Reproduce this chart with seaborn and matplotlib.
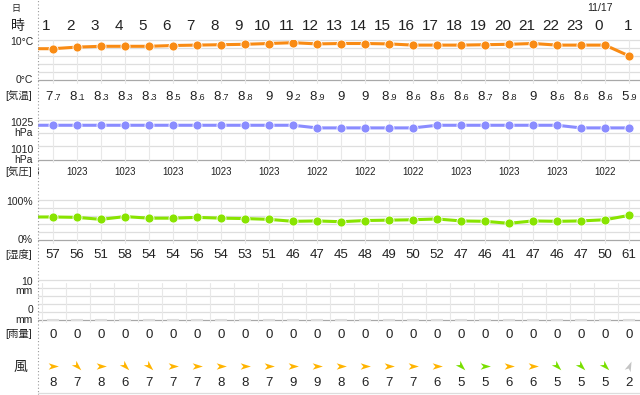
#1時間ごとの天気 (気温・気圧・湿度・雨量・風) を seaborn で再現

import numpy as np
import matplotlib.pyplot as plt
from matplotlib.path import Path
from matplotlib.markers import MarkerStyle
from matplotlib.transforms import Affine2D
import seaborn as sns

#データ (11/16 1時 〜 11/17 1時)
hour_labels = [1, 2, 3, 4, 5, 6, 7, 8, 9, 10, 11, 12, 13, 14, 15, 16, 17, 18, 19, 20, 21, 22, 23, 0, 1]
temp = [7.7, 8.1, 8.3, 8.3, 8.3, 8.5, 8.6, 8.7, 8.8, 9, 9.2, 8.9, 9, 9, 8.9, 8.6, 8.6, 8.6, 8.7, 8.8, 9, 8.6, 8.6, 8.6, 5.9]
pressure = [1023, 1023, 1023, 1023, 1023, 1023, 1023, 1023, 1023, 1023, 1023, 1022, 1022, 1022, 1022, 1022,
            1023, 1023, 1023, 1023, 1023, 1023, 1022, 1022, 1022]
humidity = [57, 56, 51, 58, 54, 54, 56, 54, 53, 51, 46, 47, 45, 48, 49, 50, 52, 47, 46, 41, 47, 46, 47, 50, 61]
rain = [0, 0, 0, 0, 0, 0, 0, 0, 0, 0, 0, 0, 0, 0, 0, 0, 0, 0, 0, 0, 0, 0, 0, 0, 0]
wind_speed = [8, 7, 8, 6, 7, 7, 7, 8, 8, 7, 9, 9, 8, 6, 7, 7, 6, 5, 5, 6, 6, 5, 5, 5, 2]
wind_dir = ['西', '北西', '西', '北西', '北西', '西', '西', '西', '西', '西', '西', '西', '西', '西', '西', '西',
            '西', '北西', '西', '西', '西', '北西', '北西', '北西', '南南西']
date_label = '11/17'

#前日0時の値 (左端で切れている線とラベル)
prev_temp = 7.7
prev_pressure = 1023
prev_humidity = 57

pos = np.arange(1, len(hour_labels) + 1)
pos_all = np.arange(0, len(hour_labels) + 1)

sns.set_style('white')
plt.rcParams['font.family'] = ['Liberation Sans', 'Noto Sans CJK JP', 'DejaVu Sans']

W_PX, H_PX = 640, 395
X0 = 37.5
TXT = '#222222'

def hx(px):
    return (px - 29) / 24

xlim = (hx(X0), hx(W_PX))

def box(top, bottom, left=X0):
    return [left / W_PX, 1 - bottom / H_PX, (W_PX - left) / W_PX, (bottom - top) / H_PX]

fig = plt.figure(figsize=(6.4, 3.95), dpi=100)

#文字用の軸 (y はピクセル)
base = fig.add_axes(box(0, H_PX))
base.set_xlim(xlim)
base.set_ylim(H_PX, 0)
base.axis('off')

def panel(top, bottom, lo, hi, step):
    a = fig.add_axes(box(top, bottom))
    a.set_xlim(xlim)
    a.set_ylim(lo, hi)
    a.axis('off')
    for v in np.arange(lo, hi + step / 2, step):
        a.axhline(v, color='#a8a8a8' if v == lo else '#dedede', lw=0.9, zorder=0, clip_on=False)
    return a

def hour_grid(a, top, bottom):
    ext = 3 / (bottom - top)
    for p in pos:
        a.axvline(p, ymin=-ext, ymax=1, color='#e8e8e8', lw=0.8, zorder=0, clip_on=False)

#左の区切り線と下の線
fig.add_artist(plt.Line2D([X0 / W_PX, X0 / W_PX], [0, 1], color='#9a9a9a', lw=0.8, ls=(0, (1, 2))))
base.axhline(393, color='#dddddd', lw=0.9)

#見出し
fig.text(16 / W_PX, 1 - 8 / H_PX, '日', fontsize=6.5, ha='center', va='center', color=TXT)
fig.text(18 / W_PX, 1 - 26 / H_PX, '時', fontsize=10, ha='center', va='center', color=TXT)
for p, h in zip(pos, hour_labels):
    off = -0.05 if p == pos[-1] else -0.27
    base.text(p + off, 26, str(h), fontsize=11, ha='center', va='center', color=TXT, clip_on=True)
base.text(pos[hour_labels.index(0)] - 0.2, 8, date_label, fontsize=7.5, ha='center', va='center', color=TXT)

#気温
ax_t = panel(39.5, 79.5, 0, 10, 2)
hour_grid(ax_t, 39.5, 79.5)
sns.lineplot(x=pos_all, y=np.r_[prev_temp, temp], ax=ax_t, color='#f98b14', lw=2.2, marker='o',
             markersize=6.5, markeredgecolor='white', markeredgewidth=0.6, legend=False)
fig.text(33 / W_PX, 1 - 42 / H_PX, '10°C', fontsize=7.5, ha='right', va='center', color=TXT)
fig.text(33 / W_PX, 1 - 80 / H_PX, '0°C', fontsize=7.5, ha='right', va='center', color=TXT)
fig.text(19 / W_PX, 1 - 96 / H_PX, '[気温]', fontsize=7.5, ha='center', va='center', color=TXT)
for p, v in zip(pos, temp):
    s = f'{v:g}'
    if '.' in s:
        a, b = s.split('.')
        base.text(p, 97, a, fontsize=9.5, ha='right', va='center', color=TXT, clip_on=True)
        base.text(p, 98, '.' + b, fontsize=6.5, ha='left', va='center', color=TXT, clip_on=True)
    else:
        base.text(p, 97, s, fontsize=9.5, ha='center', va='center', color=TXT, clip_on=True)

#気圧
ax_p = panel(120, 159.5, 1010, 1025, 5)
hour_grid(ax_p, 120, 159.5)
sns.lineplot(x=pos_all, y=np.r_[prev_pressure, pressure], ax=ax_p, color='#8a8cff', lw=2.2, marker='o',
             markersize=6.5, markeredgecolor='white', markeredgewidth=0.6, legend=False)
for y, s in [(123, '1025'), (133, 'hPa'), (150, '1010'), (160, 'hPa')]:
    fig.text(33 / W_PX, 1 - y / H_PX, s, fontsize=7.5, ha='right', va='center', color=TXT)
fig.text(19 / W_PX, 1 - 172 / H_PX, '[気圧]', fontsize=7.5, ha='center', va='center', color=TXT)
pres_all = [prev_pressure] + pressure
for p in range(0, len(pres_all), 2):
    base.text(p, 172, str(pres_all[p]), fontsize=7, ha='center', va='center', color=TXT, clip_on=True)

#湿度
ax_h = panel(200, 239.5, 0, 100, 20)
hour_grid(ax_h, 200, 239.5)
sns.lineplot(x=pos_all, y=np.r_[prev_humidity, humidity], ax=ax_h, color='#88e400', lw=2.2, marker='o',
             markersize=6.5, markeredgecolor='white', markeredgewidth=0.6, legend=False)
fig.text(33 / W_PX, 1 - 202 / H_PX, '100%', fontsize=7.5, ha='right', va='center', color=TXT)
fig.text(33 / W_PX, 1 - 240 / H_PX, '0%', fontsize=7.5, ha='right', va='center', color=TXT)
fig.text(19 / W_PX, 1 - 254 / H_PX, '[湿度]', fontsize=7.5, ha='center', va='center', color=TXT)
for p, v in zip(pos, humidity):
    base.text(p, 255, str(v), fontsize=9.5, ha='center', va='center', color=TXT, clip_on=True)

#雨量
ax_r = panel(280, 319.5, 0, 10, 2)
for p in pos:
    ax_r.axvline(p - 0.44, ymin=-0.063, ymax=0.92, color='#e8e8e8', lw=0.8, zorder=0, clip_on=False)
ax_r.bar(pos, rain, width=0.5, color='#dcdcdc', edgecolor='#dcdcdc', lw=1.5, zorder=3, clip_on=False)
for y, s in [(282, '10'), (291, 'mm'), (310, '0'), (320, 'mm')]:
    fig.text(33 / W_PX, 1 - y / H_PX, s, fontsize=7.5, ha='right', va='center', color=TXT)
fig.text(19 / W_PX, 1 - 334 / H_PX, '[雨量]', fontsize=7.5, ha='center', va='center', color=TXT)
for p, v in zip(pos, rain):
    base.text(p, 335, f'{v:g}', fontsize=9.5, ha='center', va='center', color=TXT, clip_on=True)

#風
compass = ['北', '北北東', '北東', '東北東', '東', '東南東', '南東', '南南東',
           '南', '南南西', '南西', '西南西', '西', '西北西', '北西', '北北西']
arrow = Path([(1, 0), (-0.9, 0.6), (-0.4, 0), (-0.9, -0.6), (1, 0)],
             [Path.MOVETO, Path.LINETO, Path.LINETO, Path.LINETO, Path.CLOSEPOLY])

def wind_color(v):
    if v >= 6:
        return '#ffb400'
    if v >= 3:
        return '#79df00'
    return '#c4c4c4'

fig.text(20 / W_PX, 1 - 367 / H_PX, '風', fontsize=10, ha='center', va='center', color=TXT)
for p, v, d in zip(pos, wind_speed, wind_dir):
    ang = 90 - (compass.index(d) * 22.5 + 180)
    m = MarkerStyle(arrow, transform=Affine2D().rotate_deg(ang))
    base.scatter(p, 366, marker=m, s=60, color=wind_color(v), linewidths=0)
    base.text(p, 383, str(v), fontsize=9.5, ha='center', va='center', color=TXT, clip_on=True)

plt.savefig('out.png', dpi=100)
